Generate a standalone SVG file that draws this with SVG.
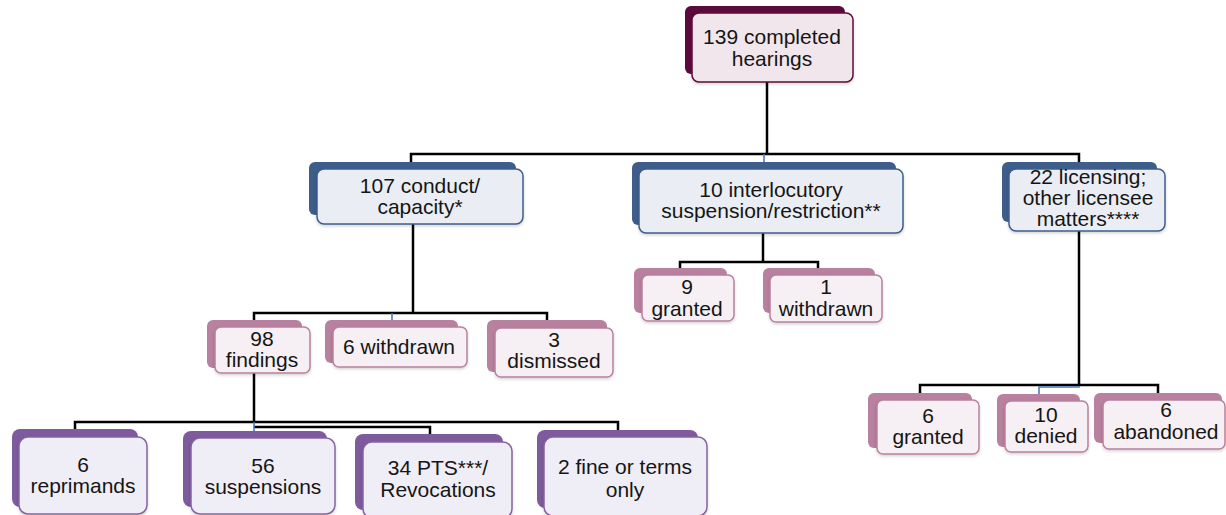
<svg xmlns="http://www.w3.org/2000/svg" width="1226" height="515" viewBox="0 0 1226 515">
<defs>
<filter id="sh" x="-10%" y="-10%" width="130%" height="140%">
<feDropShadow dx="0" dy="1.5" stdDeviation="1.5" flood-color="#000" flood-opacity="0.18"/>
</filter>
</defs>
<style>
.t{font-family:"Liberation Sans",Arial,sans-serif;font-size:21px;fill:#151515;text-anchor:middle}
.c{fill:none;stroke:#000;stroke-width:2.5}
.cb{fill:none;stroke:#4a78c2;stroke-width:1.6}
.b1{fill:#5c0a3b}
.f1{fill:#f1e6ec;stroke:#5c0a3b;stroke-width:1.5;filter:url(#sh)}
.b2{fill:#3e5d8a}
.f2{fill:#eaedf3;stroke:#3e5d8a;stroke-width:1.5;filter:url(#sh)}
.b3{fill:#b8819f}
.f3{fill:#f6eff3;stroke:#b8819f;stroke-width:1.5;filter:url(#sh)}
.b4{fill:#7d5b9c}
.f4{fill:#efedf5;stroke:#8564a3;stroke-width:1.5;filter:url(#sh)}
</style>
<rect width="1226" height="515" fill="#fff"/>
<g id="connectors">
<path class="c" d="M767,82 V154"/>
<path class="c" d="M411,163 V154 H1079 V163"/>
<path class="cb" d="M764,154 V162"/>
<path class="c" d="M413,224 V313"/>
<path class="c" d="M254,321 V313 H547 V321"/>
<path class="cb" d="M392,313 V321"/>
<path class="c" d="M763,233 V262"/>
<path class="c" d="M680,268 V262 H818 V268"/>
<path class="c" d="M254,373 V422"/>
<path class="c" d="M75,429 V422 H618 V430"/>
<path class="c" d="M254,427 H430 V434"/>
<path class="cb" d="M254,422 V431"/>
<path class="c" d="M1079,231 V385"/>
<path class="c" d="M920,393 V385 H1158 V393"/>
<path class="cb" d="M1079,386 V387 H1039 V394"/>
</g>
<g id="n-root">
<rect class="b1" x="685" y="6" width="160" height="68" rx="6"/>
<rect class="f1" x="692" y="13" width="161" height="69" rx="7"/>
<text class="t" x="772" y="44">139 completed</text>
<text class="t" x="772" y="66">hearings</text>
</g>
<g id="n-conduct">
<rect class="b2" x="309" y="162" width="207" height="53" rx="6"/>
<rect class="f2" x="317" y="169" width="206" height="55" rx="7"/>
<text class="t" x="420" y="193">107 conduct/</text>
<text class="t" x="420" y="214">capacity*</text>
</g>
<g id="n-interlocutory">
<rect class="b2" x="632" y="162" width="264" height="63" rx="6"/>
<rect class="f2" x="639" y="169" width="264" height="64" rx="7"/>
<text class="t" x="771" y="197">10 interlocutory</text>
<text class="t" x="771" y="218">suspension/restriction**</text>
</g>
<g id="n-licensing">
<rect class="b2" x="1002" y="162" width="155" height="60" rx="6"/>
<rect class="f2" x="1009" y="169" width="156" height="62" rx="7"/>
<text class="t" x="1088" y="184">22 licensing;</text>
<text class="t" x="1088" y="205">other licensee</text>
<text class="t" x="1088" y="226">matters****</text>
</g>
<g id="n-findings">
<rect class="b3" x="207" y="320" width="95" height="48" rx="6"/>
<rect class="f3" x="215" y="327" width="95" height="46" rx="6"/>
<text class="t" x="262" y="346">98</text>
<text class="t" x="262" y="367">findings</text>
</g>
<g id="n-withdrawn6">
<rect class="b3" x="325" y="320" width="133" height="43" rx="6"/>
<rect class="f3" x="333" y="327" width="134" height="40" rx="6"/>
<text class="t" x="399" y="354">6 withdrawn</text>
</g>
<g id="n-dismissed">
<rect class="b3" x="487" y="320" width="120" height="52" rx="6"/>
<rect class="f3" x="495" y="328" width="118" height="49" rx="6"/>
<text class="t" x="554" y="347">3</text>
<text class="t" x="554" y="368">dismissed</text>
</g>
<g id="n-granted9">
<rect class="b3" x="634" y="268" width="93" height="45" rx="6"/>
<rect class="f3" x="642" y="275" width="92" height="46" rx="6"/>
<text class="t" x="687" y="294">9</text>
<text class="t" x="687" y="316">granted</text>
</g>
<g id="n-withdrawn1">
<rect class="b3" x="763" y="268" width="112" height="45" rx="6"/>
<rect class="f3" x="770" y="275" width="112" height="47" rx="6"/>
<text class="t" x="826" y="294">1</text>
<text class="t" x="826" y="316">withdrawn</text>
</g>
<g id="n-granted6">
<rect class="b3" x="868" y="393" width="104" height="55" rx="6"/>
<rect class="f3" x="877" y="400" width="102" height="54" rx="6"/>
<text class="t" x="928" y="423">6</text>
<text class="t" x="928" y="444">granted</text>
</g>
<g id="n-denied">
<rect class="b3" x="997" y="394" width="83" height="53" rx="6"/>
<rect class="f3" x="1005" y="401" width="83" height="51" rx="6"/>
<text class="t" x="1046" y="422">10</text>
<text class="t" x="1046" y="443">denied</text>
</g>
<g id="n-abandoned">
<rect class="b3" x="1094" y="393" width="128" height="50" rx="6"/>
<rect class="f3" x="1103" y="400" width="122" height="49" rx="6"/>
<text class="t" x="1166" y="417">6</text>
<text class="t" x="1166" y="439">abandoned</text>
</g>
<g id="n-reprimands">
<rect class="b4" x="12" y="429" width="126" height="78" rx="8"/>
<rect class="f4" x="19" y="437" width="128" height="77" rx="9"/>
<text class="t" x="83" y="472">6</text>
<text class="t" x="83" y="493">reprimands</text>
</g>
<g id="n-suspensions">
<rect class="b4" x="183" y="431" width="144" height="76" rx="8"/>
<rect class="f4" x="191" y="438" width="144" height="76" rx="9"/>
<text class="t" x="263" y="473">56</text>
<text class="t" x="263" y="494">suspensions</text>
</g>
<g id="n-pts">
<rect class="b4" x="355" y="434" width="148" height="76" rx="8"/>
<rect class="f4" x="363" y="442" width="149" height="76" rx="9"/>
<text class="t" x="438" y="475">34 PTS***/</text>
<text class="t" x="438" y="497">Revocations</text>
</g>
<g id="n-fine">
<rect class="b4" x="537" y="430" width="161" height="78" rx="8"/>
<rect class="f4" x="544" y="437" width="163" height="79" rx="9"/>
<text class="t" x="625" y="474">2 fine or terms</text>
<text class="t" x="625" y="497">only</text>
</g>
</svg>
